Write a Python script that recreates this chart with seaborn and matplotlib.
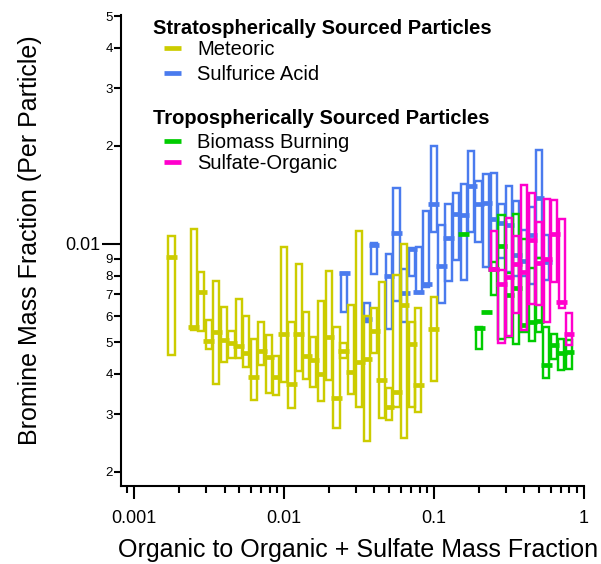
import numpy as np
import pandas as pd
import matplotlib
matplotlib.use("Agg")
import matplotlib.pyplot as plt
import seaborn as sns
from matplotlib.patches import Rectangle
from matplotlib.lines import Line2D
from matplotlib.ticker import FixedLocator, FixedFormatter, NullFormatter, LogLocator

sns.set_style("ticks")
plt.rcParams["font.family"] = ["Liberation Sans", "DejaVu Sans"]
plt.rcParams["text.color"] = "black"
plt.rcParams["axes.labelcolor"] = "black"

# ---------------- data (box: low quartile, median, high quartile) ----------------
meteoric_x = [0.00177, 0.00249, 0.00280, 0.00314, 0.00352, 0.00397, 0.00444, 0.00497,
              0.00556, 0.00626, 0.00703, 0.00788, 0.00882, 0.00992, 0.0112, 0.0125,
              0.0140, 0.0156, 0.0176, 0.0199, 0.0223, 0.0249, 0.0279, 0.0316, 0.0355,
              0.0399, 0.0447, 0.0500, 0.0560, 0.0630, 0.0709, 0.0785, 0.0994]
meteoric_high = [0.0106, 0.0111, 0.00821, 0.00585, 0.00772, 0.00642, 0.00541, 0.00678,
                 0.00603, 0.00510, 0.00577, 0.00524, 0.00454, 0.00979, 0.00578, 0.00867,
                 0.00620, 0.00520, 0.00667, 0.00825, 0.00555, 0.00497, 0.00650, 0.01096,
                 0.00602, 0.00638, 0.00766, 0.00361, 0.00804, 0.00998, 0.00578, 0.00635,
                 0.00689]
meteoric_med = [0.00912, 0.00558, 0.00713, 0.00503, 0.00538, 0.00507, 0.00497, 0.00488,
                0.00462, 0.00390, 0.00470, 0.00451, 0.00392, 0.00529, 0.00372, 0.00531,
                0.00454, 0.00441, 0.00399, 0.00519, 0.00337, 0.00470, 0.00404, 0.00436,
                0.00444, 0.00542, 0.00383, 0.00317, 0.00351, 0.00650, 0.00494, 0.00370,
                0.00550]
meteoric_low = [0.00456, 0.00546, 0.00541, 0.00476, 0.00373, 0.00436, 0.00448, 0.00446,
                0.00418, 0.00332, 0.00426, 0.00349, 0.00344, 0.00378, 0.00315, 0.00408,
                0.00385, 0.00363, 0.00331, 0.00382, 0.00272, 0.00446, 0.00346, 0.00317,
                0.00248, 0.00462, 0.00292, 0.00289, 0.00317, 0.00254, 0.00317, 0.00306,
                0.00381]

sulfuric_x = [0.0251, 0.0355, 0.0397, 0.0500, 0.0561, 0.0633, 0.0709, 0.0789, 0.0887,
              0.0994, 0.112, 0.125, 0.140, 0.158, 0.177, 0.198, 0.223, 0.250, 0.282,
              0.316, 0.353, 0.398, 0.448, 0.501, 0.560]
sulfuric_high = [0.00817, 0.00661, 0.01005, 0.00930, 0.01488, 0.00836, 0.00974, 0.00982,
                 0.01262, 0.0200, 0.01144, 0.01323, 0.01436, 0.01524, 0.01932, 0.01563,
                 0.01639, 0.01647, 0.01326, 0.01506, 0.01357, 0.01104, 0.01301, 0.01942,
                 0.01066]
sulfuric_med = [0.00812, 0.00587, 0.00996, 0.00798, 0.01083, 0.00706, 0.00963, 0.00714,
                0.00754, 0.01323, 0.00856, 0.01045, 0.01236, 0.01227, 0.01506, 0.01331,
                0.01339, 0.01193, 0.01157, 0.01144, 0.00925, 0.00889, 0.01066, 0.01380,
                0.00883]
sulfuric_low = [0.00620, 0.00575, 0.00807, 0.00548, 0.00669, 0.00575, 0.00798, 0.00706,
                0.00740, 0.01091, 0.00658, 0.00772, 0.00890, 0.00778, 0.01091, 0.01016,
                0.00852, 0.00832, 0.00904, 0.00821, 0.00798, 0.00798, 0.00754, 0.00904,
                0.00775]

biomass_x = [0.158, 0.200, 0.224, 0.250, 0.281, 0.316, 0.353, 0.398, 0.448, 0.501,
             0.560, 0.631, 0.706, 0.794]
biomass_high = [0.0107, 0.00555, 0.00619, 0.00881, 0.01227, 0.00817, 0.01236, 0.01034,
                0.00842, 0.00904, 0.00558, 0.00530, 0.00511, 0.00508]
biomass_med = [0.0107, 0.00553, 0.00619, 0.00838, 0.00986, 0.00698, 0.00732, 0.00565,
               0.00577, 0.00581, 0.00425, 0.00490, 0.00462, 0.00467]
biomass_low = [0.0107, 0.00476, 0.00619, 0.00698, 0.00513, 0.00520, 0.00494, 0.00538,
               0.00504, 0.00538, 0.00388, 0.00443, 0.00411, 0.00413]

sulforg_x = [0.250, 0.281, 0.316, 0.353, 0.398, 0.448, 0.501, 0.564, 0.634, 0.710, 0.794]
sulforg_high = [0.01096, 0.00830, 0.01199, 0.01058, 0.01517, 0.01436, 0.01171, 0.01371,
                0.01364, 0.01193, 0.00616]
sulforg_med = [0.00836, 0.00754, 0.00792, 0.00868, 0.00821, 0.01032, 0.00873, 0.00900,
               0.01073, 0.00666, 0.00529]
sulforg_low = [0.00832, 0.00496, 0.00522, 0.00613, 0.00545, 0.00656, 0.00650, 0.00575,
               0.00766, 0.00638, 0.00490]

x_tick_values = [0.001, 0.01, 0.1, 1]
x_tick_labels = ["0.001", "0.01", "0.1", "1"]
y_major_values = [0.01]
y_major_labels = ["0.01"]
y_minor_values = [0.002, 0.003, 0.004, 0.005, 0.006, 0.007, 0.008, 0.009,
                  0.02, 0.03, 0.04, 0.05]
y_minor_labels = ["2", "3", "4", "5", "6", "7", "8", "9", "2", "3", "4", "5"]

colors = {"Meteoric": "#CCCC00", "Sulfurice Acid": "#4A7BEE",
          "Biomass Burning": "#00CC00", "Sulfate-Organic": "#FF00CC"}

frames = []
for name, xs, lo, md, hi in [
    ("Meteoric", meteoric_x, meteoric_low, meteoric_med, meteoric_high),
    ("Sulfurice Acid", sulfuric_x, sulfuric_low, sulfuric_med, sulfuric_high),
    ("Biomass Burning", biomass_x, biomass_low, biomass_med, biomass_high),
    ("Sulfate-Organic", sulforg_x, sulforg_low, sulforg_med, sulforg_high),
]:
    frames.append(pd.DataFrame({"series": name, "x": xs, "low": lo, "med": md, "high": hi}))
df = pd.concat(frames, ignore_index=True)

# ---------------- figure ----------------
W, H = 601, 564
fig = plt.figure(figsize=(W / 100, H / 100), dpi=100)
ax = fig.add_axes([121 / W, 1 - 486 / H, 463 / W, 471 / H])
ax.set_xscale("log")
ax.set_yscale("log")
ax.set_xlim(0.000815, 1.0)
ax.set_ylim(0.00181, 0.0504)

BOX_F = 10 ** 0.021
MED_F = 10 ** 0.036
zorders = {"Sulfurice Acid": 2, "Meteoric": 3, "Biomass Burning": 4, "Sulfate-Organic": 5}

for name in ["Sulfurice Acid", "Meteoric", "Biomass Burning", "Sulfate-Organic"]:
    sub = df[df["series"] == name]
    c = colors[name]
    z = zorders[name]
    for r in sub.itertuples():
        x0, x1 = r.x / BOX_F, r.x * BOX_F
        ax.add_patch(Rectangle((x0, r.low), x1 - x0, r.high - r.low, fill=False,
                               edgecolor=c, linewidth=1.75, joinstyle="miter", zorder=z))
    ax.hlines(sub["med"], sub["x"] / MED_F, sub["x"] * MED_F, colors=c,
              linewidth=3.4, zorder=z + 0.5)

sns.despine(ax=ax)
for s in ["left", "bottom"]:
    ax.spines[s].set_linewidth(1.5)
    ax.spines[s].set_color("black")

ax.xaxis.set_major_locator(FixedLocator(x_tick_values))
ax.xaxis.set_major_formatter(FixedFormatter(x_tick_labels))
ax.xaxis.set_minor_locator(LogLocator(base=10, subs=np.arange(2, 10), numticks=20))
ax.xaxis.set_minor_formatter(NullFormatter())
ax.yaxis.set_major_locator(FixedLocator(y_major_values))
ax.yaxis.set_major_formatter(FixedFormatter(y_major_labels))
ax.yaxis.set_minor_locator(FixedLocator(y_minor_values))
ax.yaxis.set_minor_formatter(FixedFormatter(y_minor_labels))

ax.tick_params(axis="x", which="major", length=9.5, width=1.5, labelsize=13, pad=8,
               color="black", labelcolor="black")
ax.tick_params(axis="x", which="minor", length=5, width=1.5, color="black")
ax.tick_params(axis="y", which="major", length=13.5, width=1.5, labelsize=13, pad=1.5,
               color="black", labelcolor="black")
ax.tick_params(axis="y", which="minor", length=5, width=1.5, labelsize=9.5, pad=1,
               color="black", labelcolor="black")

ax.set_xlabel("Organic to Organic + Sulfate Mass Fraction", fontsize=18, color="black")
ax.xaxis.set_label_coords((358 - 121) / 463, (486 - 550) / 471)
ax.xaxis.label.set_va("center")
ax.set_ylabel("Bromine Mass Fraction (Per Particle)", fontsize=18, color="black")
ax.yaxis.set_label_coords((30 - 121) / 463, (486 - 240) / 471)
ax.yaxis.label.set_va("center")

# ---------------- legend (manual, as in the reference) ----------------
def fx(px):
    return px / W

def fy(py):
    return 1 - py / H

fs_leg = 14.5
fig.text(fx(153), fy(34), "Stratospherically Sourced Particles", fontsize=fs_leg,
         fontweight="bold", va="baseline", ha="left", color="black")
fig.text(fx(153), fy(124), "Tropospherically Sourced Particles", fontsize=fs_leg,
         fontweight="bold", va="baseline", ha="left", color="black")
entries = [("Meteoric", 55, 48), ("Sulfurice Acid", 80, 73),
           ("Biomass Burning", 148, 141), ("Sulfate-Organic", 169, 162)]
for name, base, mid in entries:
    fig.text(fx(197), fy(base), name, fontsize=fs_leg, va="baseline", ha="left",
             color="black")
    fig.add_artist(Line2D([fx(164), fx(181)], [fy(mid), fy(mid)], color=colors[name],
                          linewidth=3.4, solid_capstyle="butt"))

fig.savefig("out.png", dpi=100)
